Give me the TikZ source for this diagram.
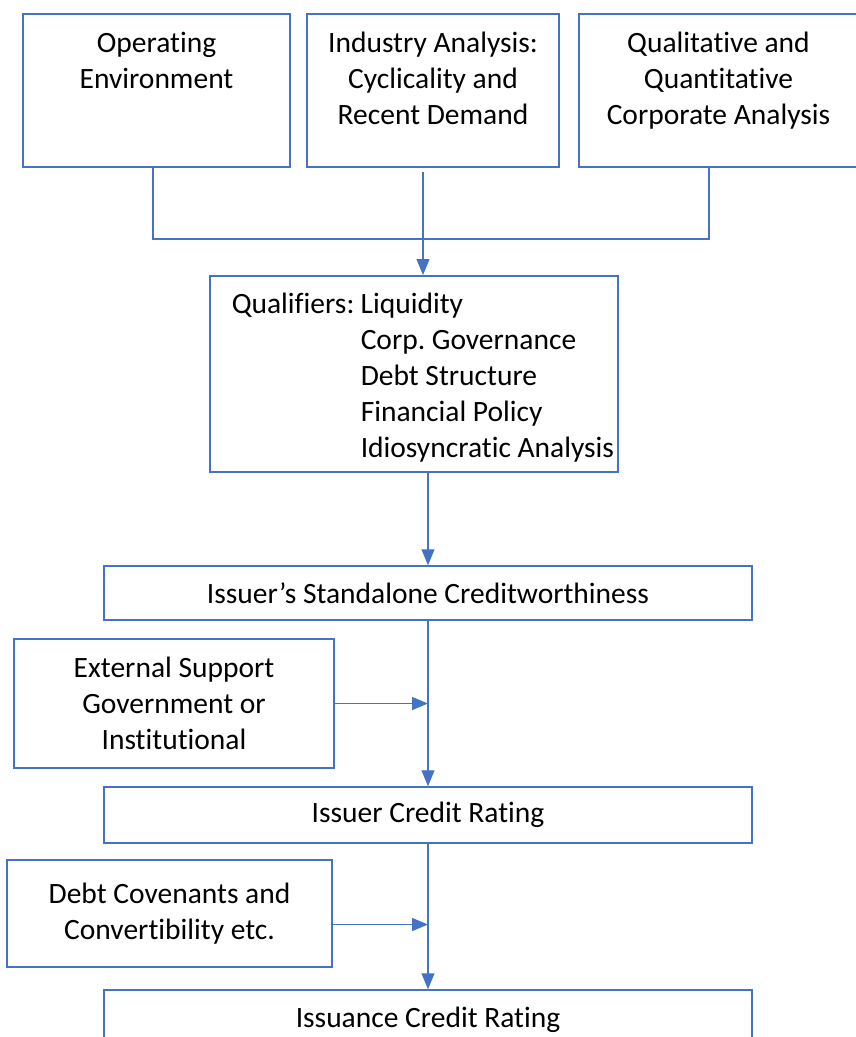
\documentclass[tikz,border=0pt]{standalone}
\usepackage{fontspec}
\setmainfont{Carlito}[Ligatures=NoCommon]
\usepackage{tikz}
\usetikzlibrary{arrows.meta}

\definecolor{boxblue}{HTML}{4472C4}

\tikzset{
  box/.style={draw=boxblue, line width=1.5pt, inner sep=0pt, align=flush center,
    font=\fontsize{29.5}{36}\selectfont\frenchspacing},
  topbox/.style={box, anchor=north, inner xsep=0pt, text width=#1,
    text height=39pt, text depth=114pt},
  link/.style={draw=boxblue, line width=1.2pt},
  arrow/.style={link, -{Triangle[width=13pt,length=16pt]}}
}

\begin{document}
\begin{tikzpicture}[x=1pt,y=-1pt]
      \useasboundingbox (0,0) rectangle (855,1037);
        \node[topbox=267pt] (operating) at (156.5,13) {Operating\\Environment};
        \node[topbox=252pt] (industry) at (433,13) {Industry Analysis:\\Cyclicality and\\Recent Demand};
        \node[topbox=279pt] (corporate) at (718.5,13) {Qualitative and\\Quantitative\\Corporate Analysis};
        \coordinate (merge) at (423,239);
        \draw[link] ([xshift=-3.5pt]operating.south) |- (merge) -| ([xshift=-9.5pt]corporate.south);
        \node[box, anchor=north west, align=flush left, text width=408pt,
          text height=38pt, text depth=158pt] (qualifiers) at (209,275)
          {\hspace*{22pt}\makebox[129pt][l]{Qualifiers:}Liquidity\\
           \hspace*{151pt}Corp. Governance\\
           \hspace*{151pt}Debt Structure\\
           \hspace*{151pt}Financial Policy\\
           \hspace*{151pt}Idiosyncratic Analysis};
        \draw[arrow] ([yshift=-4pt]merge |- industry.south) -- (merge |- qualifiers.north);
        \node[box, minimum width=648pt, minimum height=54pt] (standalone) at (428,593)
          {Issuer’s Standalone Creditworthiness};
        \draw[arrow] (standalone.north |- qualifiers.south) -- (standalone.north);
        \node[box, minimum width=320pt, minimum height=129pt] (external) at (174,703.5)
          {External Support\\Government or\\Institutional};
        \node[box, minimum width=648pt, minimum height=56pt] (issuer) at (428,815)
          {Issuer Credit Rating};
        \draw[arrow] (standalone.south) -- (issuer.north);
        \draw[arrow] (external.east) -- (external.east -| issuer.north);
        \node[box, minimum width=325pt, minimum height=107pt] (covenants) at (169.5,913.5)
          {Debt Covenants and\\Convertibility etc.};
        \node[box, minimum width=648pt, minimum height=60pt] (issuance) at (428,1020)
          {Issuance Credit Rating};
        \draw[arrow] (issuer.south) -- (issuance.north);
        \draw[arrow] ([yshift=-11pt]covenants.east) -- ([yshift=-11pt]covenants.east -| issuance.north);
      \end{tikzpicture}
\end{document}
